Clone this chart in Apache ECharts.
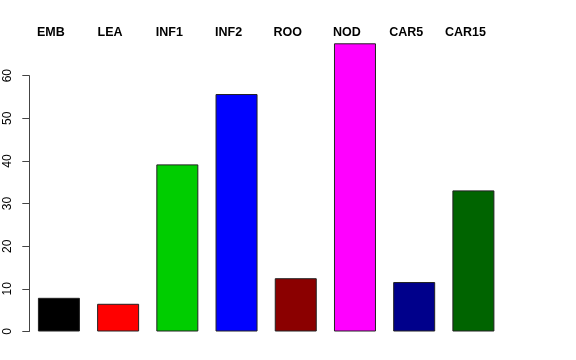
<!DOCTYPE html>
<html>
<head>
<meta charset="utf-8">
<script src="https://cdn.jsdelivr.net/npm/echarts@6/dist/echarts.min.js"></script>
<style>html,body{margin:0;padding:0;background:#fff}#c{width:576px;height:360px}</style>
</head>
<body>
<div id="c"></div>
<script>
const categories = ['EMB', 'LEA', 'INF1', 'INF2', 'ROO', 'NOD', 'CAR5', 'CAR15'];
const values = [7.9, 6.5, 39.2, 55.7, 12.5, 67.6, 11.6, 33.1];
const colors = ['#000000', '#FF0000', '#00CD00', '#0000FF', '#8B0000', '#FF00FF', '#00008B', '#006400'];
const yTicks = [0, 10, 20, 30, 40, 50, 60];

const chart = echarts.init(document.getElementById('c'), null, {renderer: 'canvas'});
chart.setOption({
  animation: false,
  backgroundColor: '#ffffff',
  grid: [
    {left: 29.3, right: 73, top: 75.7, bottom: 28.5},
    {left: 21.3, right: 81, top: 40, height: 1}
  ],
  xAxis: [
    {type: 'category', gridIndex: 0, data: categories, axisLine: {show: false}, axisTick: {show: false}, axisLabel: {show: false}},
    {type: 'category', gridIndex: 1, data: categories, position: 'top', axisLine: {show: false}, axisTick: {show: false},
     axisLabel: {show: true, margin: 1, fontFamily: 'Liberation Sans', fontWeight: 'bold', fontSize: 12.5, color: '#000'}}
  ],
  yAxis: [
    {type: 'value', gridIndex: 0, min: yTicks[0], max: yTicks[yTicks.length - 1], interval: 10,
     axisLine: {show: true, lineStyle: {color: '#444', width: 1}},
     axisTick: {show: true, length: 7, lineStyle: {color: '#444'}},
     axisLabel: {rotate: 90, margin: 16, fontFamily: 'Liberation Sans', fontSize: 12, color: '#000'},
     splitLine: {show: false}},
    {type: 'value', gridIndex: 1, show: false}
  ],
  series: [{
    type: 'bar',
    xAxisIndex: 0, yAxisIndex: 0,
    clip: false,
    barWidth: 42,
    data: values.map((v, i) => ({value: v, itemStyle: {color: colors[i]}})),
    itemStyle: {borderColor: '#222', borderWidth: 1}
  }]
});
</script>
</body>
</html>
